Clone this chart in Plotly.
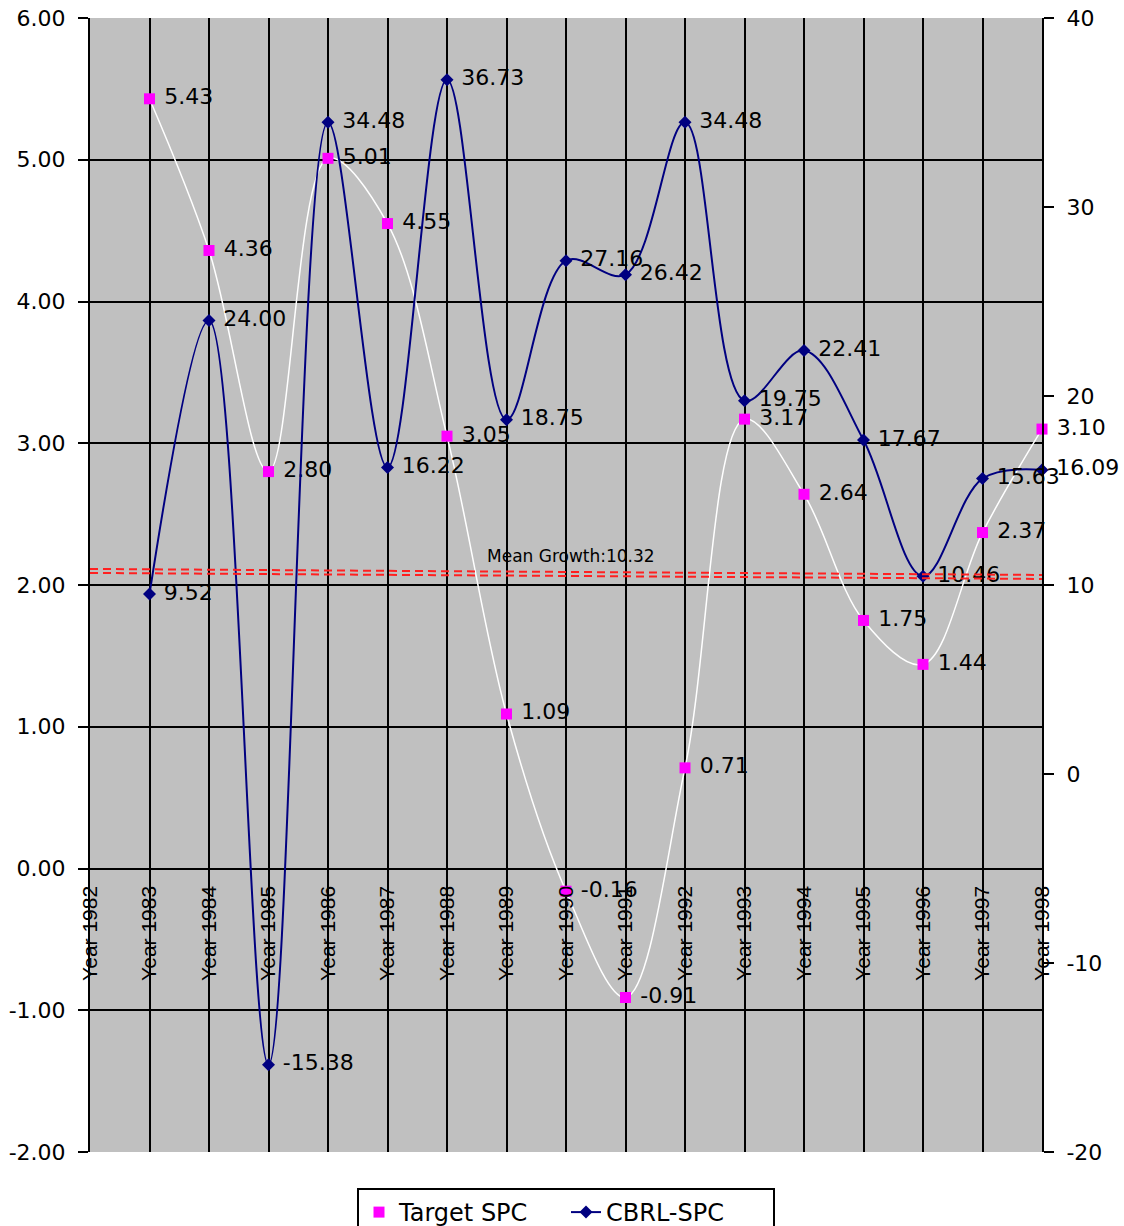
import plotly.graph_objects as go

# Category axis: one tick per year
years = [f"Year {y}" for y in range(1982, 1999)]

# Series values (1983-1998)
point_years = years[1:]
target_spc = [5.43, 4.36, 2.80, 5.01, 4.55, 3.05, 1.09, -0.16, -0.91,
              0.71, 3.17, 2.64, 1.75, 1.44, 2.37, 3.10]
cbrl_spc = [9.52, 24.00, -15.38, 34.48, 16.22, 36.73, 18.75, 27.16, 26.42,
            34.48, 19.75, 22.41, 17.67, 10.46, 15.63, 16.09]
mean_growth = 10.32

# Axis tick values
left_ticks = [-2, -1, 0, 1, 2, 3, 4, 5, 6]
right_ticks = [-20, -10, 0, 10, 20, 30, 40]

NUM_FONT = "DejaVu Sans"
CAT_FONT = "Liberation Sans, Arial"

fig = go.Figure()

fig.add_trace(go.Scatter(
    x=point_years, y=target_spc, name="Target SPC",
    mode="lines+markers+text",
    line=dict(color="white", width=1.5, shape="spline", smoothing=1.0),
    marker=dict(symbol="square", size=11, color="#FF00FF"),
    text=[f" {v:.2f}" for v in target_spc],
    textposition="middle right",
    textfont=dict(family=NUM_FONT, size=22, color="black"),
    cliponaxis=False,
))

fig.add_trace(go.Scatter(
    x=point_years, y=cbrl_spc, name="CBRL-SPC", yaxis="y2",
    mode="lines+markers+text",
    line=dict(color="#000080", width=2, shape="spline", smoothing=1.0),
    marker=dict(symbol="diamond", size=10, color="#000080"),
    text=[f" {v:.2f}" for v in cbrl_spc],
    textposition="middle right",
    textfont=dict(family=NUM_FONT, size=22, color="black"),
    cliponaxis=False,
))

# Mean growth reference: double dashed red line on the right axis
for lo, hi in [(6, 0), (10, 4)]:
    fig.add_shape(
        type="line", xref="paper", x0=0, x1=1,
        yref="y2", ysizemode="pixel", yanchor=mean_growth, y0=lo, y1=hi,
        line=dict(color="#FF2020", width=2, dash="8px,5px"),
    )

fig.add_annotation(
    text=f"Mean Growth:{mean_growth:.2f}",
    xref="paper", yref="paper", x=0.505, y=0.5256,
    xanchor="center", yanchor="middle", showarrow=False,
    font=dict(family=NUM_FONT, size=17, color="black"),
)

fig.update_layout(
    width=1124, height=1226,
    margin=dict(l=90, r=82, t=18, b=74, autoexpand=False),
    paper_bgcolor="white", plot_bgcolor="#C0C0C0",
    showlegend=True,
    legend=dict(
        orientation="h", x=0.5, xanchor="center",
        yref="container", y=1 - 1188 / 1226, yanchor="top",
        entrywidth=162, entrywidthmode="pixels",
        bgcolor="white", bordercolor="black", borderwidth=2,
        font=dict(family=NUM_FONT, size=24, color="black"),
    ),
    xaxis=dict(
        type="category", categoryorder="array", categoryarray=years,
        range=[0, len(years) - 1], automargin=False,
        anchor="free", position=0.25,
        showgrid=True, gridcolor="black", gridwidth=2,
        showline=False, zeroline=False,
        ticks="outside", ticklen=8, tickcolor="rgba(0,0,0,0)",
        tickangle=-90,
        tickfont=dict(family=CAT_FONT, size=21, color="black"),
    ),
    yaxis=dict(
        range=[-2, 6], automargin=False,
        tickvals=left_ticks, ticktext=[f"{v:.2f}" for v in left_ticks],
        showgrid=True, gridcolor="black", gridwidth=2,
        zeroline=False, showline=True, linecolor="black", linewidth=2,
        ticks="outside", ticklen=10, tickcolor="black", tickwidth=2,
        ticklabelstandoff=8,
        tickfont=dict(family=NUM_FONT, size=22, color="black"),
    ),
    yaxis2=dict(
        overlaying="y", side="right", range=[-20, 40], automargin=False,
        tickvals=right_ticks, ticktext=[str(v) for v in right_ticks],
        showgrid=False, zeroline=False,
        showline=True, linecolor="black", linewidth=2,
        ticks="outside", ticklen=10, tickcolor="black", tickwidth=2,
        ticklabelstandoff=8,
        tickfont=dict(family=NUM_FONT, size=22, color="black"),
    ),
)

fig.write_html("out.html")
